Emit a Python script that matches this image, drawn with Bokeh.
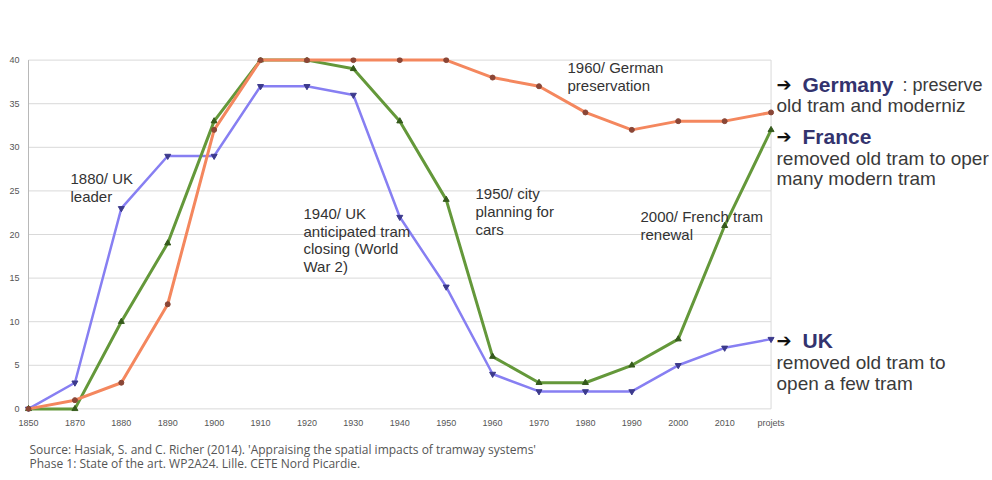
from bokeh.plotting import figure
from bokeh.models import Range1d, Label, FixedTicker, Title
from bokeh.embed import file_html
from bokeh.resources import INLINE

# ---- data ----
periods = ["1850", "1870", "1880", "1890", "1900", "1910", "1920", "1930", "1940",
           "1950", "1960", "1970", "1980", "1990", "2000", "2010", "projets"]
germany = [0, 1, 3, 12, 32, 40, 40, 40, 40, 40, 38, 37, 34, 32, 33, 33, 34]
france = [0, 0, 10, 19, 33, 40, 40, 39, 33, 24, 6, 3, 3, 5, 8, 21, 32]
uk = [0, 3, 23, 29, 29, 37, 37, 36, 22, 14, 4, 2, 2, 2, 5, 7, 8]
y_ticks = [0, 5, 10, 15, 20, 25, 30, 35, 40]

idx = list(range(len(periods)))
last = len(periods) - 1

# geometry (pixels of the picture)
W, H = 992, 480
LEFT, TOP, FRAME_H = 24, 57, 355
SX = 46.41                      # px per category step
X_START = -4 / SX
X_END = X_START + (W - LEFT) / SX

p = figure(width=W, height=H, output_backend="svg", toolbar_location=None,
           x_range=Range1d(X_START, X_END), y_range=Range1d(-0.3, 40.3),
           min_border_left=LEFT, min_border_right=0, min_border_top=TOP,
           min_border_bottom=H - TOP - FRAME_H)
p.background_fill_color = "white"
p.border_fill_color = "white"
p.outline_line_color = None

# axes
p.xaxis.ticker = FixedTicker(ticks=idx)
p.xaxis.major_label_overrides = {i: s for i, s in enumerate(periods)}
p.yaxis.ticker = FixedTicker(ticks=y_ticks)
for ax in (p.xaxis[0], p.yaxis[0]):
    ax.axis_line_color = None
    ax.major_tick_line_color = None
    ax.minor_tick_line_color = None
    ax.major_tick_out = 0
    ax.minor_tick_out = 0
    ax.major_tick_in = 0
    ax.minor_tick_in = 0
    ax.major_label_text_font = "Liberation Sans"
    ax.major_label_text_font_size = "9px"
    ax.major_label_text_color = "#555555"
p.xaxis.major_label_standoff = 6
p.yaxis.major_label_standoff = 5
p.grid.grid_line_color = None

# plot-area grid and border, limited to the chart's own span
p.segment(x0=[0] * len(y_ticks), y0=y_ticks, x1=[last] * len(y_ticks), y1=y_ticks,
          line_color="#d9d9d9", line_width=1)
p.segment(x0=[last], y0=[0], x1=[last], y1=[y_ticks[-1]], line_color="#d9d9d9", line_width=1)
p.segment(x0=[0], y0=[0], x1=[0], y1=[y_ticks[-1]], line_color="#b8b8b8", line_width=1)

# series
p.line(idx, uk, line_color="#877ff2", line_width=2.5)
p.scatter(idx, uk, marker="inverted_triangle", size=6, fill_color="#3c3a8c", line_color="#3c3a8c")
p.line(idx, france, line_color="#64983a", line_width=3)
p.scatter(idx, france, marker="triangle", size=6, fill_color="#355a1c", line_color="#355a1c")
p.line(idx, germany, line_color="#f4875e", line_width=3)
p.scatter(idx, germany, marker="circle", size=5, fill_color="#8a4636", line_color="#8a4636")

# pixel -> data helpers for annotation placement
X0 = 28.0
SY = FRAME_H / 40.6
Y0 = TOP + 40.3 * SY


def dx(px):
    return (px - X0) / SX


def dy(py):
    return (Y0 - py) / SY


def lab(text, px, py, size, color="#333333", style="normal", font="Liberation Sans"):
    p.add_layout(Label(x=dx(px), y=dy(py), text=text, text_font=font,
                       text_font_size=size, text_color=color, text_font_style=style,
                       text_align="left", text_baseline="middle"))


# in-chart annotations
notes = [
    (["1880/ UK", "leader"], 70, 178),
    (["1940/ UK", "anticipated tram", "closing (World", "War 2)"], 303, 213),
    (["1950/ city", "planning for", "cars"], 475, 193),
    (["1960/ German", "preservation"], 567, 67),
    (["2000/ French tram", "renewal"], 640, 216),
]
for lines, px, py in notes:
    for k, t in enumerate(lines):
        lab(t, px, py + 18 * k, "15px")

# right-hand legend texts
navy = "#33336e"
grey = "#3a3a3a"
lab("➔", 776, 84, "18px", "#111111", "bold", "DejaVu Sans")
lab("Germany", 802, 84, "21px", navy, "bold")
lab(": preserve", 902, 85, "18px", grey)
lab("old tram and moderniz", 776, 105, "19px", grey)
lab("➔", 776, 136, "18px", "#111111", "bold", "DejaVu Sans")
lab("France", 802, 136, "21px", navy, "bold")
lab("removed old tram to oper", 776, 158, "19px", grey)
lab("many modern tram", 776, 178, "19px", grey)
lab("➔", 776, 341, "18px", "#111111", "bold", "DejaVu Sans")
lab("UK", 802, 341, "21px", navy, "bold")
lab("removed old tram to", 776, 363, "19px", grey)
lab("open a few tram", 776, 384, "19px", grey)

# source lines under the axis
src1 = "Source: Hasiak, S. and C. Richer (2014). 'Appraising the spatial impacts of tramway systems'"
src2 = "Phase 1: State of the art. WP2A24. Lille. CETE Nord Picardie."
p.add_layout(Title(text=src1 + "\n" + src2, align="left", offset=5, standoff=17,
                   text_font="Open Sans", text_font_size="12px", text_font_style="normal",
                   text_line_height=0.8, text_color="#555555"), "below")

open("out.html", "w").write(file_html(p, INLINE))
